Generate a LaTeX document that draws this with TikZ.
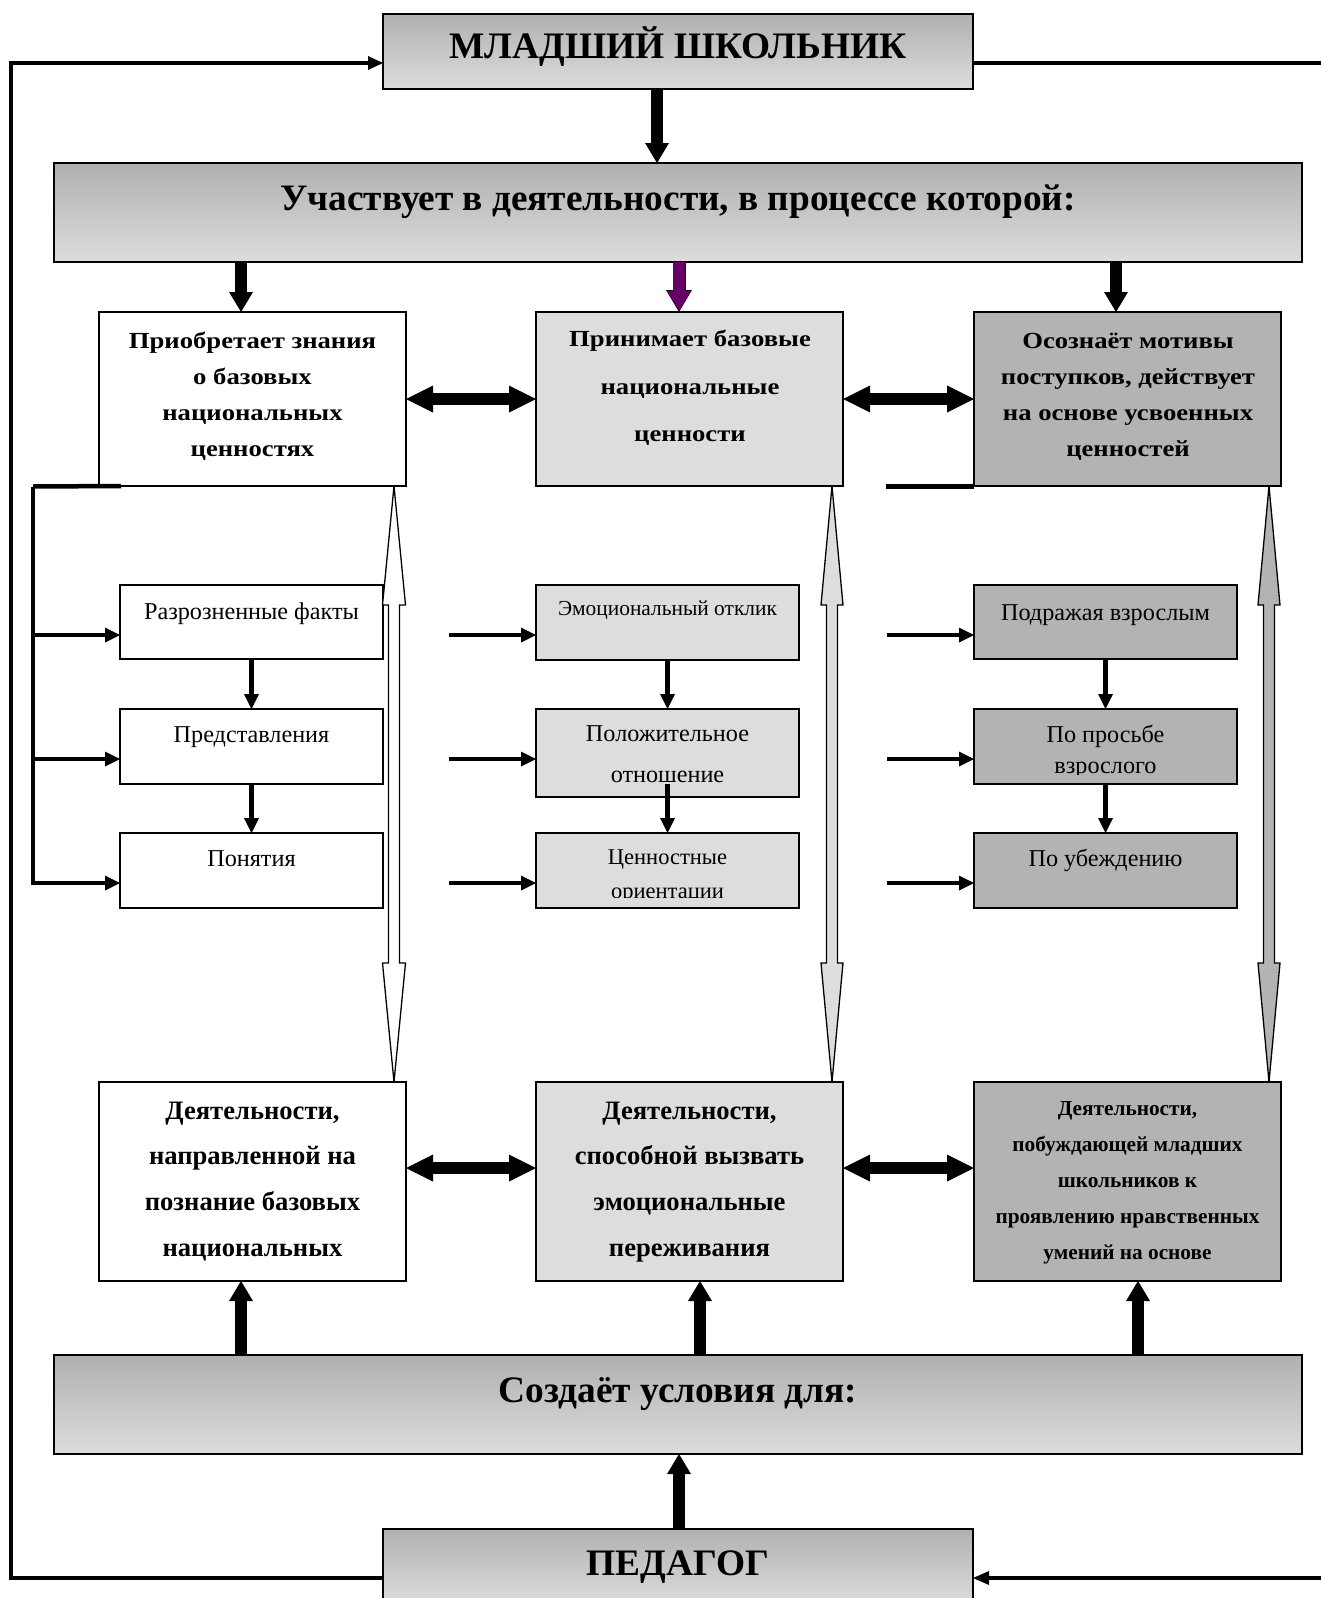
\documentclass[tikz,border=0pt]{standalone}
\usepackage{fontspec}
\setmainfont{Liberation Serif}
\newfontfamily\wideserif[FakeStretch=1.16]{Liberation Serif}
\usetikzlibrary{arrows.meta,calc}
\definecolor{lgray}{RGB}{221,221,221}
\definecolor{dgray}{RGB}{179,179,179}
\definecolor{gtop}{RGB}{176,176,176}
\definecolor{gbot}{RGB}{221,221,221}
\definecolor{plum}{RGB}{102,0,102}
\newcommand\fB[1]{\fontsize{#1}{#1}\selectfont\bfseries}
\newcommand\fR[1]{\fontsize{#1}{#1}\selectfont}
\newcommand\fW[1]{\wideserif\fontsize{#1}{#1}\selectfont\bfseries}
\newcommand\vdarrow[4]{% top tip, bottom tip, half head ; fill colour
  \draw[line width=1.3pt, draw=black, fill=#4] let \p1=(#1), \p2=(#2) in
   (\x1,\y1) -- (\x1+#3pt,\y1-119pt) -- (\x1+5.5pt,\y1-119pt) -- (\x1+5.5pt,\y2+119pt)
   -- (\x1+#3pt,\y2+119pt) -- (\x1,\y2) -- (\x1-#3pt,\y2+119pt) -- (\x1-5.5pt,\y2+119pt)
   -- (\x1-5.5pt,\y1-119pt) -- (\x1-#3pt,\y1-119pt) -- cycle;}
\tikzset{
 bx/.style={draw=black, line width=1.6pt, inner sep=0pt, outer sep=0pt},
 grad/.style={bx, line width=2pt, top color=gtop, bottom color=gbot},
 txt/.style={anchor=base, inner sep=0pt, outer sep=0pt},
 bigarrow/.style={line width=11.5pt, -{Triangle[width=24pt,length=20pt,line width=0pt]}},
 dblarrow/.style={line width=12pt, {Triangle[width=27pt,length=27pt,line width=0pt]}-{Triangle[width=27pt,length=27pt,line width=0pt]}},
 wline/.style={line width=4.5pt},
 thinarrow/.style={line width=4.5pt, -{Triangle[width=15pt,length=15pt,line width=0pt]}},
}
\begin{document}
\begin{tikzpicture}[x=1pt, y=-1pt, line join=miter]
\useasboundingbox (0,0) rectangle (1321,1598);
% ---------- boxes
\node[grad, minimum width=590pt, minimum height=75pt] (top) at (678,51.5) {};
\node[grad, minimum width=1248pt, minimum height=99pt] (part) at (678,212.5) {};
\node[bx, fill=white, minimum width=307pt, minimum height=174pt] (b1) at (252.5,399) {};
\node[bx, fill=lgray, minimum width=307pt, minimum height=174pt] (b2) at (689.5,399) {};
\node[bx, fill=dgray, minimum width=307pt, minimum height=174pt] (b3) at (1127.5,399) {};
\node[bx, fill=white, minimum width=263pt, minimum height=74pt] (s11) at (251.5,622) {};
\node[bx, fill=white, minimum width=263pt, minimum height=75pt] (s12) at (251.5,746.5) {};
\node[bx, fill=white, minimum width=263pt, minimum height=75pt] (s13) at (251.5,870.5) {};
\node[bx, fill=lgray, minimum width=263pt, minimum height=75pt] (s21) at (667.5,622.5) {};
\node[bx, fill=lgray, minimum width=263pt, minimum height=88pt] (s22) at (667.5,753) {};
\node[bx, fill=lgray, minimum width=263pt, minimum height=75pt] (s23) at (667.5,870.5) {};
\node[bx, fill=dgray, minimum width=263pt, minimum height=74pt] (s31) at (1105.5,622) {};
\node[bx, fill=dgray, minimum width=263pt, minimum height=75pt] (s32) at (1105.5,746.5) {};
\node[bx, fill=dgray, minimum width=263pt, minimum height=75pt] (s33) at (1105.5,870.5) {};
\node[bx, fill=white, minimum width=307pt, minimum height=199pt] (d1) at (252.5,1181.5) {};
\node[bx, fill=lgray, minimum width=307pt, minimum height=199pt] (d2) at (689.5,1181.5) {};
\node[bx, fill=dgray, minimum width=307pt, minimum height=199pt] (d3) at (1127.5,1181.5) {};
\node[grad, minimum width=1248pt, minimum height=99pt] (cond) at (678,1404.5) {};
\node[grad, minimum width=590pt, minimum height=75pt] (ped) at (678,1566.5) {};
% ---------- texts
\node[txt, font={\fB{37.4}}] (ttop) at (678,58.5) {МЛАДШИЙ ШКОЛЬНИК};
\node[txt, font={\fB{37.3}}] (tpart) at (678,210) {Участвует в деятельности, в процессе которой:};
\foreach \l [count=\i] in {Приобретает знания, о базовых, национальных, ценностях}
  \node[txt, font={\fW{23}}] (tb1-\i) at (252.5,{348+36*(\i-1)}) {\l};
\foreach \l [count=\i] in {Принимает базовые, национальные, ценности}
  \node[txt, font={\fW{23}}] (tb2-\i) at (690,{346.7+47.6*(\i-1)}) {\l};
\foreach \l [count=\i] in {Осознаёт мотивы, {поступков, действует}, на основе усвоенных, ценностей}
  \node[txt, font={\fW{23}}] (tb3-\i) at (1128,{348+36*(\i-1)}) {\l};
\node[txt, font={\fR{24.2}}] (ts11) at (251.5,619) {Разрозненные факты};
\node[txt, font={\fR{24.2}}] (ts12) at (251.5,742.7) {Представления};
\node[txt, font={\fR{24.2}}] (ts13) at (251.5,866.7) {Понятия};
\node[txt, font={\fR{21.4}}] (ts21) at (667.5,615) {Эмоциональный отклик};
\node[txt, font={\fR{24.2}}] (ts22a) at (667.5,741.7) {Положительное};
\node[txt, font={\fR{24.2}}] (ts22b) at (667.5,782.7) {отношение};
\begin{scope}
  \clip (s23.north west) rectangle ([yshift=11pt]s23.south east);
  \node[txt, font={\fR{22.5}}] (ts23a) at (667.5,864) {Ценностные};
  \node[txt, font={\fR{22.5}}] (ts23b) at (667.5,898) {ориентации};
\end{scope}
\node[txt, font={\fR{24.2}}] (ts31) at (1105.5,620) {Подражая взрослым};
\begin{scope}
  \clip (s32.north west) rectangle ([yshift=10pt]s32.south east);
  \node[txt, font={\fR{24.2}}] (ts32a) at (1105.5,742.7) {По просьбе};
  \node[txt, font={\fR{24.2}}] (ts32b) at (1105.5,773) {взрослого};
\end{scope}
\node[txt, font={\fR{24.2}}] (ts33) at (1105.5,866.7) {По убеждению};
\foreach \l [count=\i] in {{Деятельности,}, направленной на, познание базовых, национальных}
  \node[txt, font={\fB{26.6}}] (td1-\i) at (252.5,{1119+45.7*(\i-1)}) {\l};
\foreach \l [count=\i] in {{Деятельности,}, способной вызвать, эмоциональные, переживания}
  \node[txt, font={\fB{26.6}}] (td2-\i) at (689.5,{1119+45.7*(\i-1)}) {\l};
\foreach \l [count=\i] in {{Деятельности,}, побуждающей младших, школьников к, проявлению нравственных, умений на основе}
  \node[txt, font={\fB{21.3}}] (td3-\i) at (1127.5,{1115+36.2*(\i-1)}) {\l};
\node[txt, font={\fB{37.4}}] (tcond) at (678,1402) {Создаёт условия для:};
\node[txt, font={\fB{37.4}}] (tped) at (678,1575) {ПЕДАГОГ};
% ---------- thick arrows
\draw[bigarrow] ([xshift=-21pt]top.south) -- ([xshift=-21pt]part.north);
\coordinate (a1) at ([xshift=-11.5pt]b1.north);
\coordinate (a2) at ([xshift=-10.5pt]b2.north);
\coordinate (a3) at ([xshift=-11.5pt]b3.north);
\draw[bigarrow] (a1 |- part.south) -- (a1);
\draw[line width=13pt, -{Triangle[width=26pt,length=22pt,line width=0pt]}] (a2 |- part.south) -- (a2);
\draw[bigarrow, plum, shorten >=1pt] (a2 |- part.south) -- (a2);
\draw[bigarrow] (a3 |- part.south) -- (a3);
\coordinate (u1) at ([xshift=-11.5pt]d1.south);
\coordinate (u2) at ([xshift=10.5pt]d2.south);
\coordinate (u3) at ([xshift=10.5pt]d3.south);
\draw[bigarrow] (u1 |- cond.north) -- (u1);
\draw[bigarrow] (u2 |- cond.north) -- (u2);
\draw[bigarrow] (u3 |- cond.north) -- (u3);
\draw[bigarrow] ([xshift=1pt]ped.north) -- ([xshift=1pt]cond.south);
\draw[dblarrow] (b1.east) -- (b2.west);
\draw[dblarrow] (b2.east) -- (b3.west);
\draw[dblarrow] ([yshift=13.5pt]d1.east) -- ([yshift=13.5pt]d2.west);
\draw[dblarrow] ([yshift=13.5pt]d2.east) -- ([yshift=13.5pt]d3.west);
% ---------- hollow vertical double arrows
\vdarrow{[xshift=-12pt]b1.south east}{[xshift=-12pt]d1.north east}{11.5}{white}
\vdarrow{[xshift=-11pt]b2.south east}{[xshift=-11pt]d2.north east}{11}{lgray}
\vdarrow{[xshift=-12pt]b3.south east}{[xshift=-12pt]d3.north east}{11}{dgray}
% ---------- loop lines
\coordinate (lx1) at (11,63);
\coordinate (lx2) at (11,1578);
\draw[wline, -{Triangle[width=14pt,length=15pt,line width=0pt]}]
  ([yshift=-11.5pt]ped.west) -- (lx2) -- (lx1) -- ([yshift=-11.5pt]top.west);
\coordinate (rt) at (1321,63);
\coordinate (rb) at (1321,1578);
\draw[wline] ([yshift=-11.5pt]top.east) -- (rt);
\draw[wline, -{Triangle[width=14pt,length=16pt,line width=0pt]}] (rb) -- ([yshift=-11.5pt]ped.east);
% ---------- left branch
\coordinate (lb) at (33,486.5);
\coordinate (r1) at (0,635);
\coordinate (r2) at (0,759);
\coordinate (r3) at (0,883);
\draw[wline] ([xshift=22pt]b1.south west) -- (lb);
\draw[thinarrow] (lb) -- (lb |- r3) -- (r3 -| s13.west);
\draw[thinarrow] (lb |- r1) -- (r1 -| s11.west);
\draw[thinarrow] (lb |- r2) -- (r2 -| s12.west);
% ---------- middle feeders
\coordinate (m1) at (449,635);
\coordinate (m2) at (449,759);
\coordinate (m3) at (449,883);
\draw[thinarrow] (m1) -- (m1 -| s21.west);
\draw[thinarrow] (m2) -- (m2 -| s22.west);
\draw[thinarrow] (m3) -- (m3 -| s23.west);
% ---------- right feeders
\coordinate (qs) at (886,486.5);
\draw[wline] (qs) -- (qs -| b3.west);
\coordinate (q1) at (887,635);
\coordinate (q2) at (887,759);
\coordinate (q3) at (887,883);
\draw[thinarrow] (q1) -- (q1 -| s31.west);
\draw[thinarrow] (q2) -- (q2 -| s32.west);
\draw[thinarrow] (q3) -- (q3 -| s33.west);
% ---------- small vertical arrows
\draw[thinarrow] (s11.south) -- (s12.north);
\draw[thinarrow] (s12.south) -- (s13.north);
\draw[thinarrow] (s21.south) -- (s22.north);
\draw[thinarrow] ([yshift=13pt]s22.south) -- (s23.north);
\draw[thinarrow] (s31.south) -- (s32.north);
\draw[thinarrow] (s32.south) -- (s33.north);
\end{tikzpicture}
\end{document}
